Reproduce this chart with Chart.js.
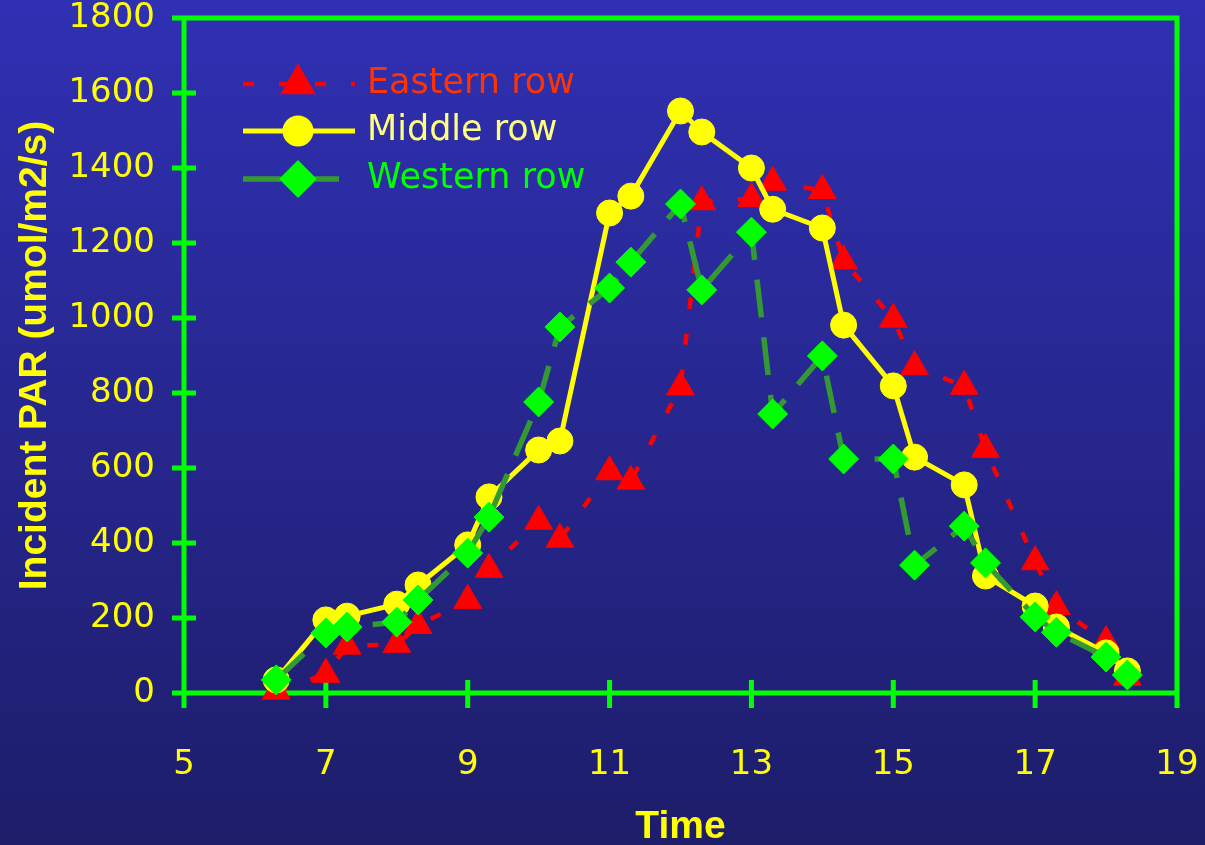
<!DOCTYPE html>
<html>
<head>
<meta charset="utf-8">
<script src="https://cdn.jsdelivr.net/npm/chart.js@4.4.0/dist/chart.umd.min.js"></script>
<style>
  html, body { margin: 0; padding: 0; background: #26268c; }
  #wrap { width: 1205px; height: 845px; }
</style>
</head>
<body>
<div id="wrap"><canvas id="parChart"></canvas></div>
<script>
// time of day (hours)
const times = [6.3, 7, 7.3, 8, 8.3, 9, 9.3, 10, 10.3, 11, 11.3, 12, 12.3,
               13, 13.3, 14, 14.3, 15, 15.3, 16, 16.3, 17, 17.3, 18, 18.3];

// incident PAR per row (umol/m2/s)
const eastern = [5, 50, 125, 130, 180, 247, 330, 458, 410, 590, 565, 816, 1310,
                 1318, 1362, 1340, 1152, 997, 870, 818, 650, 350, 230, 137, 42];
const middle = [35, 195, 205, 237, 288, 395, 523, 648, 672, 1280, 1325, 1552, 1496,
                1400, 1290, 1240, 981, 819, 629, 555, 312, 232, 176, 107, 59];
const western = [35, 160, 176, 189, 248, 373, 469, 776, 976, 1080, 1149, 1304, 1075,
                 1229, 744, 899, 624, 624, 341, 445, 347, 203, 162, 96, 48];

const seriesNames = ['Eastern row', 'Middle row', 'Western row'];
const legendTextColors = ['#ff3300', '#ffff80', '#00ff00'];

const xTicks = [5, 7, 9, 11, 13, 15, 17, 19];
const yTicks = [0, 200, 400, 600, 800, 1000, 1200, 1400, 1600, 1800];

const GREEN = '#00ff00';
const YELLOW = '#ffff00';
const tickFont = { family: "'DejaVu Sans', sans-serif", size: 34 };
const legendFont = "35px 'DejaVu Sans', sans-serif";
const titleFont = { family: "'Liberation Sans', Arial, sans-serif", size: 39, weight: 'bold' };

function toPoints(values) {
    return times.map((t, i) => ({ x: t, y: values[i] }));
}

// no extra room for labels hanging past the plot ends
function noLabelPadding(s) {
    s.paddingLeft = 0;
    s.paddingRight = 0;
    s.paddingTop = 0;
    s.paddingBottom = 0;
}

const background = {
    id: 'background',
    beforeDraw(chart) {
        const ctx = chart.ctx;
        const g = ctx.createLinearGradient(0, 0, 0, chart.height);
        g.addColorStop(0, '#3030b4');
        g.addColorStop(1, '#1d1d6a');
        ctx.save();
        ctx.fillStyle = g;
        ctx.fillRect(0, 0, chart.width, chart.height);
        ctx.restore();
    }
};

// frame and the tick marks that cross the axes
const frame = {
    id: 'frame',
    beforeDatasetsDraw(chart) {
        const { ctx, chartArea: a, scales: { x, y } } = chart;
        ctx.save();
        ctx.strokeStyle = GREEN;
        ctx.lineWidth = 5;
        ctx.beginPath();
        ctx.moveTo(a.left, a.top);
        ctx.lineTo(a.right, a.top);
        ctx.lineTo(a.right, a.bottom);
        ctx.moveTo(a.left, a.top);
        ctx.lineTo(a.left, a.bottom);
        ctx.lineTo(a.right, a.bottom);
        y.ticks.forEach(t => {
            const py = y.getPixelForValue(t.value);
            ctx.moveTo(a.left - 12, py);
            ctx.lineTo(a.left + 12, py);
        });
        x.ticks.forEach(t => {
            const px = x.getPixelForValue(t.value);
            ctx.moveTo(px, a.bottom - 13);
            ctx.lineTo(px, a.bottom + 15);
        });
        ctx.stroke();
        ctx.restore();
    }
};

// legend drawn inside the plot, like the original
const insideLegend = {
    id: 'insideLegend',
    afterDraw(chart) {
        const ctx = chart.ctx;
        const rowsY = [84, 131, 179];
        const x0 = 243, x1 = 355, mx = 298, tx = 367;
        ctx.save();
        chart.data.datasets.forEach((ds, i) => {
            const yy = rowsY[i];
            ctx.strokeStyle = ds.borderColor;
            ctx.lineWidth = ds.borderWidth;
            ctx.setLineDash(ds.borderDash || []);
            ctx.beginPath();
            ctx.moveTo(x0, yy);
            ctx.lineTo(x1, yy);
            ctx.stroke();
            ctx.setLineDash([]);
            ctx.fillStyle = ds.pointBackgroundColor;
            ctx.strokeStyle = ds.pointBackgroundColor;
            Chart.helpers.drawPoint(ctx, {
                pointStyle: ds.pointStyle,
                radius: ds.pointRadius,
                rotation: 0,
                borderWidth: 1
            }, mx, yy);
            ctx.fillStyle = legendTextColors[i];
            ctx.font = legendFont;
            ctx.textBaseline = 'middle';
            ctx.textAlign = 'left';
            ctx.fillText(seriesNames[i], tx, yy);
        });
        ctx.restore();
    }
};

new Chart(document.getElementById('parChart'), {
    type: 'line',
    data: {
        datasets: [{
            label: seriesNames[0],
            data: toPoints(eastern),
            borderColor: '#ff0000',
            borderWidth: 4.5,
            borderDash: [11, 25],
            pointStyle: 'triangle',
            pointRadius: 16,
            pointBackgroundColor: '#ff0000',
            pointBorderColor: '#ff0000',
            pointBorderWidth: 1,
            order: 2
        }, {
            label: seriesNames[1],
            data: toPoints(middle),
            borderColor: YELLOW,
            borderWidth: 5,
            pointStyle: 'circle',
            pointRadius: 13,
            pointBackgroundColor: YELLOW,
            pointBorderColor: YELLOW,
            pointBorderWidth: 1,
            order: 1
        }, {
            label: seriesNames[2],
            data: toPoints(western),
            borderColor: '#339933',
            borderWidth: 5.5,
            borderDash: [38, 20],
            pointStyle: 'rectRot',
            pointRadius: 15,
            pointBackgroundColor: GREEN,
            pointBorderColor: GREEN,
            pointBorderWidth: 1,
            order: 0
        }]
    },
    options: {
        responsive: true,
        maintainAspectRatio: false,
        animation: false,
        events: [],
        clip: false,
        layout: { padding: { top: 18, right: 28, left: 0, bottom: 0 } },
        plugins: {
            legend: { display: false },
            tooltip: { enabled: false }
        },
        scales: {
            x: {
                type: 'linear',
                min: xTicks[0],
                max: xTicks[xTicks.length - 1],
                afterBuildTicks: s => { s.ticks = xTicks.map(v => ({ value: v })); },
                afterFit: s => { s.height = 152; noLabelPadding(s); },
                grid: { display: false, drawTicks: false },
                border: { display: false },
                ticks: { color: YELLOW, font: tickFont, padding: 52, maxRotation: 0, callback: v => String(v) },
                title: {
                    display: true,
                    text: 'Time',
                    color: YELLOW,
                    font: { ...titleFont, lineHeight: 1 },
                    padding: { top: 0, bottom: -2 }
                }
            },
            y: {
                type: 'linear',
                min: yTicks[0],
                max: yTicks[yTicks.length - 1],
                afterBuildTicks: s => { s.ticks = yTicks.map(v => ({ value: v })); },
                afterFit: s => { s.width = 184; noLabelPadding(s); },
                grid: { display: false, drawTicks: false },
                border: { display: false },
                ticks: { color: YELLOW, font: tickFont, padding: 29, callback: v => String(v) },
                title: {
                    display: true,
                    text: 'Incident PAR (umol/m2/s)',
                    color: YELLOW,
                    font: { ...titleFont, lineHeight: 1.2 },
                    padding: { top: 12, bottom: 0 }
                }
            }
        }
    },
    plugins: [background, frame, insideLegend]
});
</script>
</body>
</html>
